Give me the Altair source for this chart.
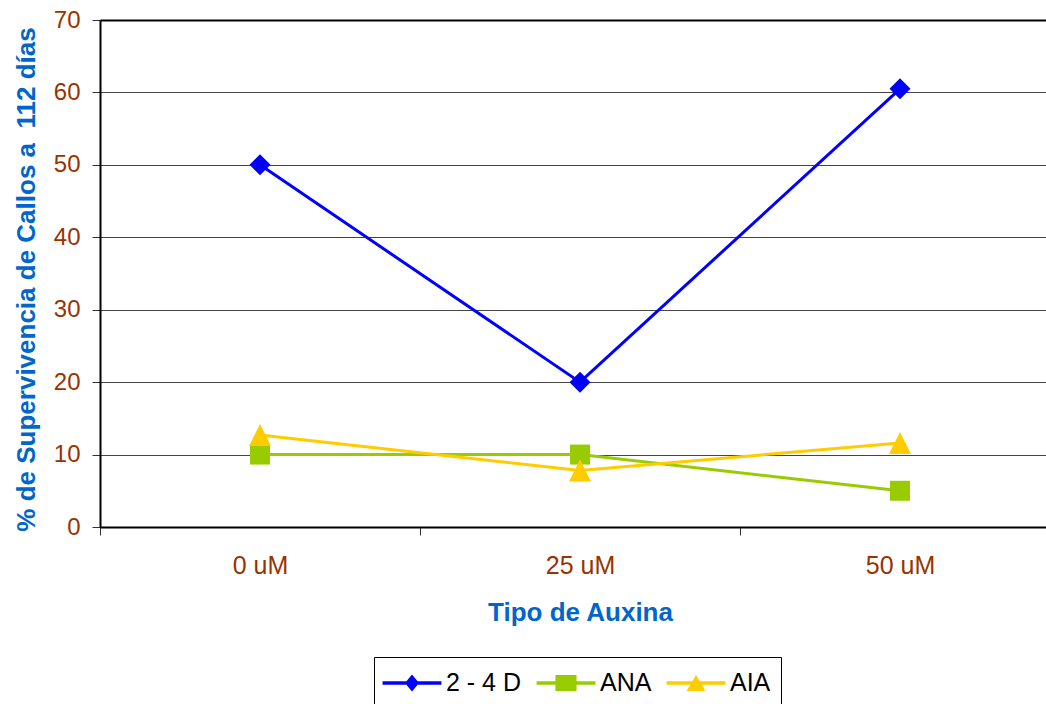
import altair as alt
import pandas as pd

# ---- data ----
categories = ["0 uM", "25 uM", "50 uM"]
series_names = ["2 - 4 D", "ANA", "AIA"]
values_24d = [50, 20, 60.5]
values_ana = [10, 10, 5]
values_aia = [12.7, 7.8, 11.6]
y_ticks = [0, 10, 20, 30, 40, 50, 60, 70]

rows = []
for name, vals in zip(series_names, [values_24d, values_ana, values_aia]):
    for cat, v in zip(categories, vals):
        rows.append({"dosis": cat, "serie": name, "valor": v})
df = pd.DataFrame(rows)

# ---- styles ----
FONT = "Liberation Sans"
BROWN = "#993300"
BLUE_T = "#0066CC"
colors = {"2 - 4 D": "#0000FF", "ANA": "#99CC00", "AIA": "#FFCC00"}
markers = {
    "2 - 4 D": ("diamond", 441),
    "ANA": ("square", 400),
    "AIA": ("M0,-1L1,1L-1,1Z", 484),
}
# legend symbols: line + marker, unit = 16 px
LINE = "M-1.84,-0.11H1.84V0.11H-1.84Z"
legend_paths = [
    LINE + "M0,-0.53L0.44,0L0,0.53L-0.44,0Z",
    LINE + "M-0.66,-0.5H0.66V0.5H-0.66Z",
    LINE + "M0,-0.5L0.59,0.5H-0.59Z",
]

x_enc = alt.X(
    "dosis:N",
    sort=categories,
    scale=alt.Scale(type="band", domain=categories, range=[0, 960],
                    paddingInner=0, paddingOuter=0),
    axis=alt.Axis(
        title="Tipo de Auxina",
        titleFont=FONT, titleFontSize=26, titleFontWeight="bold", titleColor=BLUE_T,
        titleX=480, titleY=93, titleAlign="center", titleBaseline="alphabetic",
        labelFont=FONT, labelFontSize=25, labelColor=BROWN, labelAngle=0,
        labelPadding=38, labelBaseline="alphabetic",
        tickBand="extent", tickSize=8, tickColor="#333333", tickWidth=1,
        domainColor="#000000", domainWidth=2, grid=False,
    ),
)

y_enc = alt.Y(
    "valor:Q",
    scale=alt.Scale(domain=[0, 70], nice=False, zero=True),
    axis=alt.Axis(
        title="% de Supervivencia de Callos a\u00a0 112 días",
        titleFont=FONT, titleFontSize=26, titleFontWeight="bold", titleColor=BLUE_T,
        titleAngle=270, titleX=-66, titleY=259, titleAlign="center",
        titleBaseline="alphabetic",
        values=y_ticks,
        labelFont=FONT, labelFontSize=24, labelColor=BROWN, labelPadding=12,
        tickSize=8, tickColor="#333333", tickWidth=1,
        domainColor="#000000", domainWidth=2,
        grid=True,
        gridColor={"condition": {"test": "datum.value === 70", "value": "#000000"},
                   "value": "#444444"},
        gridWidth={"condition": {"test": "datum.value === 70", "value": 2},
                   "value": 1},
    ),
)

base = alt.Chart(df)

layers = []
for name in series_names:
    layers.append(
        base.transform_filter(alt.datum.serie == name)
        .mark_line(color=colors[name], strokeWidth=3)
        .encode(x=x_enc, y=y_enc)
    )
for name in series_names:
    shape, size = markers[name]
    layers.append(
        base.transform_filter(alt.datum.serie == name)
        .mark_point(shape=shape, size=size, filled=True, color=colors[name],
                    opacity=1, strokeWidth=0)
        .encode(x=x_enc, y=y_enc)
    )

legend_layer = base.mark_point(filled=True, opacity=0, size=1024).encode(
    x=x_enc,
    y=y_enc,
    color=alt.Color("serie:N",
                    scale=alt.Scale(domain=series_names,
                                    range=[colors[n] for n in series_names]),
                    legend=alt.Legend(title=None)),
    shape=alt.Shape("serie:N",
                    scale=alt.Scale(domain=series_names, range=legend_paths),
                    legend=alt.Legend(title=None)),
)
layers.append(legend_layer)

chart = (
    alt.layer(*layers)
    .properties(
        width=946, height=507,
        autosize=alt.AutoSizeParams(type="none"),
        padding={"left": 100, "top": 20, "right": 0, "bottom": 177},
        background="white",
    )
    .configure_view(stroke=None)
    .configure_legend(
        orient="none", legendX=274, legendY=637, direction="horizontal",
        padding=10, strokeColor="#000000", fillColor="#FFFFFF",
        columnPadding=14, labelOffset=18, symbolOffset=12,
        symbolSize=1024, symbolStrokeWidth=0, symbolOpacity=1,
        labelFont=FONT, labelFontSize=25, labelColor="#000000", labelLimit=300,
        rowPadding=0,
    )
)

chart.save("out.html", embed_options={"renderer": "svg", "actions": False})
